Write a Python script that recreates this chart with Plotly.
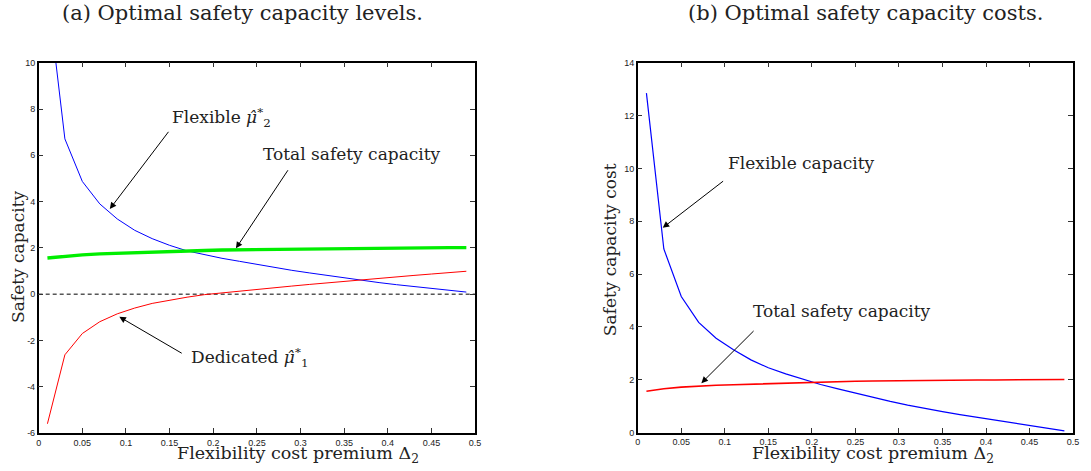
import plotly.graph_objects as go

# ---------------- data ----------------
delta = [0.01, 0.03, 0.05, 0.07, 0.09, 0.11, 0.13, 0.15, 0.17, 0.19, 0.21, 0.23, 0.25,
         0.27, 0.29, 0.31, 0.33, 0.35, 0.37, 0.39, 0.41, 0.43, 0.45, 0.47, 0.49]

flexible_level = [13.1, 6.71, 4.87, 3.90, 3.25, 2.76, 2.40, 2.11, 1.87, 1.70, 1.55, 1.42, 1.28,
                  1.15, 1.03, 0.92, 0.81, 0.70, 0.60, 0.50, 0.41, 0.33, 0.25, 0.17, 0.09]
dedicated_level = [-5.6, -2.62, -1.70, -1.19, -0.85, -0.60, -0.40, -0.25, -0.13, -0.02, 0.06, 0.14, 0.21,
                   0.28, 0.35, 0.42, 0.49, 0.56, 0.63, 0.69, 0.75, 0.81, 0.87, 0.93, 0.99]
total_level = [1.56, 1.64, 1.70, 1.74, 1.77, 1.80, 1.83, 1.85, 1.87, 1.89, 1.91, 1.92, 1.93,
               1.94, 1.95, 1.96, 1.97, 1.98, 1.98, 1.99, 1.99, 2.00, 2.00, 2.01, 2.01]

flexible_cost = [12.85, 6.95, 5.15, 4.17, 3.57, 3.13, 2.75, 2.45, 2.22, 2.01, 1.82, 1.65, 1.49,
                 1.33, 1.18, 1.04, 0.91, 0.79, 0.68, 0.58, 0.48, 0.38, 0.27, 0.17, 0.06]
total_cost = [1.56, 1.66, 1.72, 1.76, 1.79, 1.81, 1.83, 1.86, 1.88, 1.90, 1.91, 1.93, 1.94,
              1.95, 1.96, 1.97, 1.97, 1.98, 1.98, 1.99, 1.99, 2.00, 2.00, 2.00, 2.01]

x_ticks = [0, 0.05, 0.1, 0.15, 0.2, 0.25, 0.3, 0.35, 0.4, 0.45, 0.5]
x_tick_text = ["0", "0.05", "0.1", "0.15", "0.2", "0.25", "0.3", "0.35", "0.4", "0.45", "0.5"]
y_ticks_a = [-6, -4, -2, 0, 2, 4, 6, 8, 10]
y_ticks_b = [0, 2, 4, 6, 8, 10, 12, 14]

# ---------------- styling ----------------
SERIF = "DejaVu Serif, Liberation Serif, serif"
TICKFONT = dict(family="Liberation Sans Narrow, Arial Narrow, Liberation Sans, sans-serif",
                size=9, color="#222")
TEXTC = "#222"
W, H = 1091, 471

fig = go.Figure()

# Left panel
fig.add_trace(go.Scatter(x=[0, 0.5], y=[0, 0], mode="lines",
                         line=dict(color="black", width=1, dash="4px,3px"),
                         xaxis="x", yaxis="y", showlegend=False, hoverinfo="skip"))
fig.add_trace(go.Scatter(x=delta, y=flexible_level, mode="lines",
                         line=dict(color="#0000FF", width=1), xaxis="x", yaxis="y", showlegend=False))
fig.add_trace(go.Scatter(x=delta, y=dedicated_level, mode="lines",
                         line=dict(color="#FF0000", width=1), xaxis="x", yaxis="y", showlegend=False))
fig.add_trace(go.Scatter(x=delta, y=total_level, mode="lines",
                         line=dict(color="#00EE00", width=3.4), xaxis="x", yaxis="y", showlegend=False))

# Right panel
fig.add_trace(go.Scatter(x=delta, y=flexible_cost, mode="lines",
                         line=dict(color="#0000FF", width=1.2), xaxis="x2", yaxis="y2", showlegend=False))
fig.add_trace(go.Scatter(x=delta, y=total_cost, mode="lines",
                         line=dict(color="#FF0000", width=1.6), xaxis="x2", yaxis="y2", showlegend=False))

axis_common = dict(showgrid=False, zeroline=False, showline=True, linecolor="black", linewidth=1.5,
                   mirror="ticks", ticks="inside", ticklen=5, tickwidth=1, tickcolor="#333",
                   tickfont=TICKFONT)

fig.update_layout(
    width=W, height=H,
    margin=dict(l=0, r=0, t=0, b=0),
    paper_bgcolor="white", plot_bgcolor="white",
    xaxis=dict(domain=[36 / W, 476 / W], range=[0, 0.5], tickvals=x_ticks,
               ticktext=x_tick_text, anchor="y", **axis_common),
    yaxis=dict(domain=[(H - 437.3) / H, (H - 59.0) / H], range=[-6, 10], tickvals=y_ticks_a,
               ticktext=[str(v) for v in y_ticks_a], anchor="x", **axis_common),
    xaxis2=dict(domain=[640 / W, 1079 / W], range=[0, 0.5], tickvals=x_ticks,
                ticktext=x_tick_text, anchor="y2", **axis_common),
    yaxis2=dict(domain=[(H - 436.8) / H, (H - 59.0) / H], range=[0, 14], tickvals=y_ticks_b,
                ticktext=[str(v) for v in y_ticks_b], anchor="x2", **axis_common),
)

ann = []

def ptext(txt, px, py, size, angle=0):
    return dict(text=txt, x=px / W, y=1 - py / H, xref="paper", yref="paper",
                xanchor="center", yanchor="middle", textangle=angle, showarrow=False,
                font=dict(family=SERIF, size=size, color=TEXTC))

# titles
ann.append(ptext("(a) Optimal safety capacity levels.", 241, 8, 21))
ann.append(ptext("(b) Optimal safety capacity costs.", 870, 8, 21))
# axis titles
ann.append(ptext("Flexibility cost premium Δ<sub>2</sub>", 297, 459, 17.5))
ann.append(ptext("Flexibility cost premium Δ<sub>2</sub>", 877, 459, 17.5))
ann.append(ptext("Safety capacity", 15, 257.5, 17, -90))
ann.append(ptext("Safety capacity cost", 612, 249.5, 17, -90))

def arrow(xh, yh, xt, yt, xr, yr):
    return dict(x=xh, y=yh, ax=xt, ay=yt, xref=xr, yref=yr, axref=xr, ayref=yr, text="",
                showarrow=True, arrowhead=2, arrowsize=1.3, arrowwidth=1, arrowcolor="black")

def label(txt, x, y, xr, yr):
    return dict(text=txt, x=x, y=y, xref=xr, yref=yr, showarrow=False,
                xanchor="center", yanchor="middle",
                font=dict(family=SERIF, size=17, color=TEXTC))

# left panel callouts
ann.append(label("Flexible <i>μ̂</i><sup>*</sup><sub>2</sub>", 0.21, 7.65, "x", "y"))
ann.append(arrow(0.0815, 3.68, 0.150, 7.08, "x", "y"))
ann.append(label("Total safety capacity", 0.359, 6.06, "x", "y"))
ann.append(arrow(0.226, 1.98, 0.2867, 5.42, "x", "y"))
ann.append(label("Dedicated <i>μ̂</i><sup>*</sup><sub>1</sub>", 0.241, -2.74, "x", "y"))
ann.append(arrow(0.0924, -0.98, 0.1656, -2.59, "x", "y"))

# right panel callouts
ann.append(label("Flexible capacity", 0.188, 10.22, "x2", "y2"))
ann.append(arrow(0.0287, 7.75, 0.0998, 9.56, "x2", "y2"))
ann.append(label("Total safety capacity", 0.2344, 4.59, "x2", "y2"))
ann.append(arrow(0.0731, 1.87, 0.1348, 3.90, "x2", "y2"))

fig.update_layout(annotations=ann)

fig.write_html("out.html", config={"displayModeBar": False},
               post_script="document.body.style.margin='0';document.body.style.overflow='hidden';")
